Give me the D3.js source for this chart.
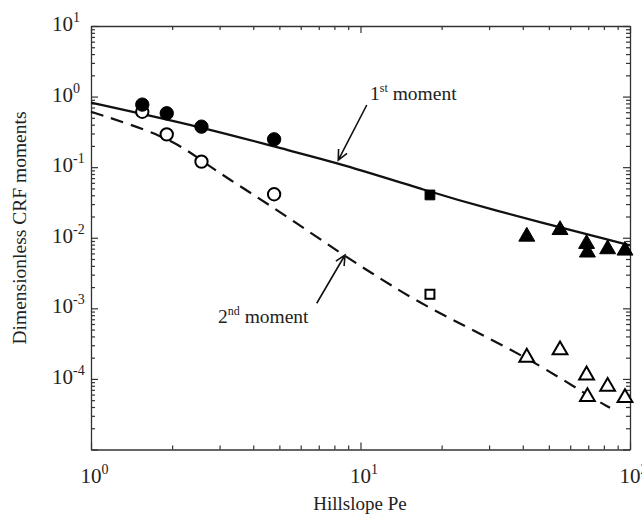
<!DOCTYPE html>
<html>
<head>
<meta charset="utf-8">
<script src="https://cdn.jsdelivr.net/npm/d3@7"></script>
<style>
  body { margin: 0; background: #fff; }
  text { font-family: "Liberation Serif", "Times New Roman", serif; fill: #222; }
</style>
</head>
<body>
<script>
// data
const peCircle = [1.55, 1.91, 2.57, 4.78]
const firstCircle = [0.77, 0.58, 0.375, 0.248]
const secondCircle = [0.61, 0.292, 0.12, 0.0413]

const peSquare = [18.1]
const firstSquare = [0.0404]
const secondSquare = [0.00158]

const peTriangle = [41.4, 55.0, 69.0, 69.5, 82.6, 95.8]
const firstTriangle = [0.0104, 0.0129, 0.0082, 0.0062, 0.0069, 0.0066]
const secondTriangle = [2.02e-4, 2.57e-4, 1.13e-4, 5.6e-5, 7.8e-5, 5.4e-5]

// model curves
const peFirstLine = [1, 2.69, 5.03, 8.39, 18.1, 27.8, 100]
const firstLine = [0.82, 0.356, 0.185, 0.1135, 0.0449, 0.0275, 0.0078]
const peSecondLine = [1, 1.9, 2.56, 3.14, 5.03, 8.61, 11.8, 17.35, 41.5, 69.3, 84.3]
const secondLine = [0.611, 0.2765, 0.1264, 0.0733, 0.0234, 0.0057, 0.00267, 0.00106, 2.05e-4, 5.9e-5, 3.9e-5]

const xMajor = [1, 10, 100]
const yMajor = [1e-5, 1e-4, 1e-3, 1e-2, 1e-1, 1, 10]
const xLabels = [0, 1, 2]
const yLabels = [1, 0, -1, -2, -3, -4]

const W = 642, H = 521
const mLeft = 91, mRight = 630, mTop = 26, mBottom = 449.5

const svg = d3.select("body")
    .append("svg")
    .attr("width", W)
    .attr("height", H)

svg.append("rect").attr("width", W).attr("height", H).attr("fill", "#fff")

const x = d3.scaleLog().domain([1, 100]).range([mLeft, mRight])
const y = d3.scaleLog().domain([1e-5, 10]).range([mBottom, mTop])

// minor ticks (2..9 in each decade)
const minorOf = majors => majors.slice(0, -1).flatMap(m => d3.range(2, 10).map(k => k * m))
const xMinor = minorOf(xMajor)
const yMinor = minorOf(yMajor)

function frame(axisFn, scale, pos, vals, len, domain) {
    const g = svg.append("g")
        .attr("transform", pos)
        .call(axisFn(scale).tickValues(vals).tickSizeInner(-len).tickSizeOuter(0).tickFormat(""))
    g.selectAll("line").attr("stroke", "#333").attr("stroke-width", 1.2)
    g.select(".domain").attr("stroke", domain ? "#333" : "none").attr("stroke-width", 1.3)
}

frame(d3.axisBottom, x, `translate(0,${mBottom})`, xMajor, 7, true)
frame(d3.axisBottom, x, `translate(0,${mBottom})`, xMinor, 4, false)
frame(d3.axisTop, x, `translate(0,${mTop})`, xMajor, 7, true)
frame(d3.axisTop, x, `translate(0,${mTop})`, xMinor, 4, false)
frame(d3.axisLeft, y, `translate(${mLeft},0)`, yMajor, 7, true)
frame(d3.axisLeft, y, `translate(${mLeft},0)`, yMinor, 4, false)
frame(d3.axisRight, y, `translate(${mRight},0)`, yMajor, 7, true)
frame(d3.axisRight, y, `translate(${mRight},0)`, yMinor, 4, false)

// tick labels 10^n
const fs = 21
xLabels.forEach(p => {
    const t = svg.append("text")
        .attr("x", x(Math.pow(10, p)) - fs / 2)
        .attr("y", mBottom + 33)
        .attr("font-size", fs)
    t.append("tspan").text("10")
    t.append("tspan").attr("font-size", 14).attr("dy", -9).text(p)
})
yLabels.forEach(p => {
    const t = svg.append("text")
        .attr("x", 52)
        .attr("y", y(Math.pow(10, p)) + 5)
        .attr("font-size", fs)
    t.append("tspan").text("10")
    t.append("tspan").attr("font-size", 14).attr("dy", -9).text(p < 0 ? "-" + (-p) : p)
})

// axis titles
svg.append("text")
    .attr("x", 360)
    .attr("y", 510)
    .attr("text-anchor", "middle")
    .attr("font-size", 19)
    .text("Hillslope Pe")

svg.append("text")
    .attr("transform", "translate(26,228) rotate(-90)")
    .attr("text-anchor", "middle")
    .attr("font-size", 19.5)
    .text("Dimensionless CRF moments")

// curves
const line = d3.line()
    .x(d => x(d[0]))
    .y(d => y(d[1]))
    .curve(d3.curveBasis)

svg.append("path")
    .datum(d3.zip(peFirstLine, firstLine))
    .attr("d", line)
    .attr("fill", "none")
    .attr("stroke", "#111")
    .attr("stroke-width", 2.3)

svg.append("path")
    .datum(d3.zip(peSecondLine, secondLine))
    .attr("d", line)
    .attr("fill", "none")
    .attr("stroke", "#111")
    .attr("stroke-width", 2.2)
    .attr("stroke-dasharray", "13,8")

// markers
function points(pe, vals, shape, size, filled) {
    svg.append("g")
        .selectAll("path")
        .data(d3.zip(pe, vals))
        .join("path")
        .attr("transform", d => `translate(${x(d[0])},${y(d[1])})`)
        .attr("d", d3.symbol().type(shape).size(size))
        .attr("fill", filled ? "#000" : "#fff")
        .attr("stroke", "#000")
        .attr("stroke-width", filled ? 1 : 2)
}

points(peCircle, secondCircle, d3.symbolCircle, 120, false)
points(peCircle, firstCircle, d3.symbolCircle, 140, true)
points(peSquare, firstSquare, d3.symbolSquare, 95, true)
points(peSquare, secondSquare, d3.symbolSquare, 80, false)
points(peTriangle, firstTriangle, d3.symbolTriangle, 110, true)
points(peTriangle, secondTriangle, d3.symbolTriangle, 95, false)

// annotations
const notes = [
    { lab: "1", sup: "st", tx: 10.85, ty: 0.895, from: [10.55, 0.76], to: [8.27, 0.126] },
    { lab: "2", sup: "nd", tx: 2.96, ty: 6.2e-4, from: [6.88, 1.18e-3], to: [8.76, 5.7e-3] }
]

notes.forEach(n => {
    const t = svg.append("text")
        .attr("x", x(n.tx))
        .attr("y", y(n.ty))
        .attr("font-size", 19.5)
    t.append("tspan").text(n.lab)
    t.append("tspan").attr("font-size", 12).attr("dy", -8).text(n.sup)
    t.append("tspan").attr("dy", 8).text(" moment")

    const x0 = x(n.from[0]), y0 = y(n.from[1]), x1 = x(n.to[0]), y1 = y(n.to[1])
    const a = Math.atan2(y1 - y0, x1 - x0), L = 11, s = 0.45
    svg.append("path")
        .attr("d", `M${x0},${y0}L${x1},${y1}` +
            `M${x1 - L * Math.cos(a - s)},${y1 - L * Math.sin(a - s)}L${x1},${y1}` +
            `L${x1 - L * Math.cos(a + s)},${y1 - L * Math.sin(a + s)}`)
        .attr("fill", "none")
        .attr("stroke", "#111")
        .attr("stroke-width", 1.6)
})
</script>
</body>
</html>
